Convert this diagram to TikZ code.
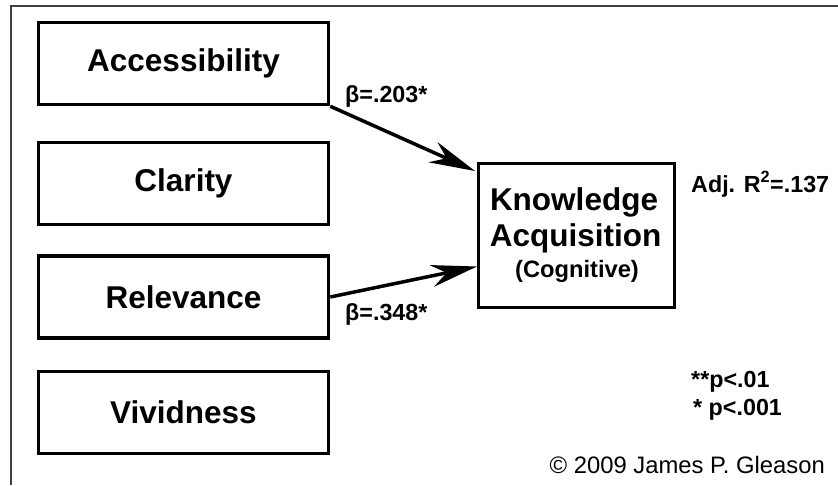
\documentclass[tikz,border=0pt]{standalone}
\usepackage{fontspec}
\setmainfont{Liberation Sans}
\usetikzlibrary{arrows.meta}
\begin{document}
\begin{tikzpicture}[x=1pt,y=-1pt,
  predictor/.style={draw=black,line width=3.5pt,minimum width=290pt,minimum height=82pt,
    inner sep=0pt,font=\fontsize{31.5}{36}\selectfont\bfseries},
  outcome/.style={draw=black,line width=3pt,minimum width=196pt,minimum height=144pt,inner sep=0pt},
  bigtext/.style={inner sep=0pt,anchor=base,font=\fontsize{31.5}{36}\selectfont\bfseries},
  smalltext/.style={inner sep=0pt,anchor=base west,font=\fontsize{23.3}{28}\selectfont\bfseries},
  path/.style={line width=3.5pt,-{Stealth[length=46pt,width=22pt,inset=15pt]}},
  frame/.style={line width=2pt,black!75}]
\useasboundingbox (0,0) rectangle (838,485);
% frame edges
\coordinate (fl) at (11,485);
\coordinate (fc) at (11,6);
\coordinate (fr) at (838,6);
\draw[frame] (fl) -- (fc) -- (fr);
% predictors
\node[predictor] (acc) at (183.5,63.5) {Accessibility};
\node[predictor] (cla) at (183.5,183.5) {Clarity};
\node[predictor] (rel) at (183.5,297) {Relevance};
\node[predictor] (viv) at (183.5,412.5) {Vividness};
% outcome
\node[outcome] (know) at (576.5,235.5) {};
\node[bigtext] (k1) at (574,210) {Knowledge};
\node[bigtext] (k2) at (575.5,246) {Acquisition};
\node[inner sep=0pt,anchor=base,font=\fontsize{23.7}{28}\selectfont\bfseries] (k3) at (577,277) {(Cognitive)};
% paths
\draw[path] (acc.south east) -- ([yshift=-9pt,xshift=-2pt]know.north west);
\draw[path] (rel.east) -- ([yshift=-31pt]know.west);
\node[smalltext] (b1) at (345,102) {β=.203*};
\node[smalltext] (b2) at (345,320) {β=.348*};
% notes
\node[smalltext] (adj) at (691,192) {Adj. R\textsuperscript{2}=.137};
\node[smalltext] (p1) at (691,387) {**p<.01};
\node[smalltext] (p2) at (693,415) {* p<.001};
\node[inner sep=0pt,anchor=base east,font=\fontsize{23.8}{28}\selectfont] (copy) at (825,473) {© 2009 James P. Gleason};
\end{tikzpicture}
\end{document}
